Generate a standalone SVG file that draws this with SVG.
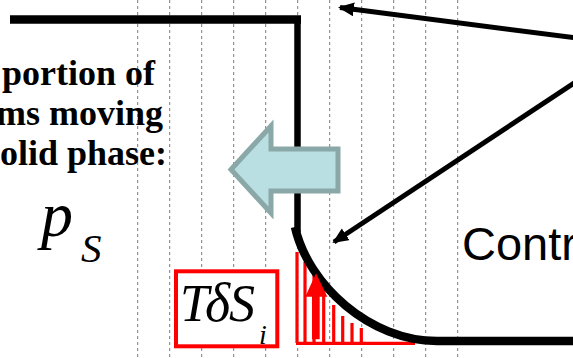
<svg xmlns="http://www.w3.org/2000/svg" width="573" height="358" viewBox="0 0 573 358">
<defs>
<style>
.grid line{stroke:#7a7a7a;stroke-width:1;stroke-dasharray:3 3}
.wall{fill:none;stroke:#000;stroke-linejoin:miter}
.ptr{stroke:#000;stroke-width:5;marker-end:url(#ah)}
.bar{stroke:#ff0000;stroke-width:3.2}
.lbl{font-family:"Liberation Serif","Times New Roman",serif;font-weight:bold;font-size:36px;fill:#000;text-anchor:end}
.math{font-family:"Liberation Serif","Times New Roman",serif;font-style:italic;fill:#000}
</style>
<marker id="ah" markerUnits="userSpaceOnUse" markerWidth="18" markerHeight="16" refX="14" refY="7" orient="auto">
<path d="M0,0 L16,7 L0,14 z" fill="#000"/>
</marker>
</defs>
<rect width="573" height="358" fill="#fff"/>
<g class="grid" id="grid">
<line x1="137.7" y1="0" x2="137.7" y2="358"/>
<line x1="169.7" y1="0" x2="169.7" y2="358"/>
<line x1="201.7" y1="0" x2="201.7" y2="358"/>
<line x1="233.7" y1="0" x2="233.7" y2="358"/>
<line x1="265.7" y1="0" x2="265.7" y2="358"/>
<line x1="297.7" y1="0" x2="297.7" y2="358"/>
<line x1="329.7" y1="0" x2="329.7" y2="358"/>
<line x1="361.7" y1="0" x2="361.7" y2="358"/>
<line x1="393.7" y1="0" x2="393.7" y2="358"/>
<line x1="425.7" y1="0" x2="425.7" y2="358"/>
<line x1="457.7" y1="0" x2="457.7" y2="358"/>
</g>
<g id="label-left">
<text class="lbl" x="155" y="85">portion of</text>
<text class="lbl" x="163" y="125">ms moving</text>
<text class="lbl" x="167" y="165">olid phase:</text>
</g>
<g id="ps">
<text class="math" x="41" y="236" font-size="64">p</text>
<text class="math" x="81" y="261.7" font-size="41">S</text>
</g>
<g id="walls">
<line class="wall" x1="10" y1="19.5" x2="301" y2="19.5" stroke-width="8.5"/>
<line class="wall" x1="297.5" y1="20" x2="297.5" y2="232" stroke-width="6.5"/>
</g>
<g id="bars">
<line class="bar" x1="296" y1="343.3" x2="415" y2="343.3"/>
<line class="bar" x1="297" y1="252" x2="297" y2="343"/>
<line class="bar" x1="305" y1="262" x2="305" y2="343"/>
<line class="bar" x1="314" y1="272" x2="314" y2="343"/>
<line class="bar" x1="323.7" y1="285" x2="323.7" y2="343"/>
<line class="bar" x1="333.7" y1="305" x2="333.7" y2="343"/>
<line class="bar" x1="342.7" y1="316" x2="342.7" y2="343"/>
<line class="bar" x1="352" y1="323" x2="352" y2="343"/>
<line class="bar" x1="361.3" y1="328" x2="361.3" y2="343"/>
</g>
<g id="surface">
<path class="wall" d="M295,227 C308,285 370,341 437,341 L573,341" stroke-width="8.5"/>
</g>
<g id="red-arrow">
<path d="M312,339.3 L312,296.7 L305.3,296.7 L316,273.3 L327.3,296.7 L319.7,296.7 L319.7,339.3 z" fill="#ff0000"/>
</g>
<g id="flux-arrow">
<path d="M231,169.5 L271,126 L271,149 L338,149 L338,191 L271,191 L271,213 z" fill="#b9dfe3" stroke="#8ba8a8" stroke-width="5" stroke-linejoin="miter"/>
</g>
<g id="tds-box">
<rect x="176" y="271.3" width="101.3" height="75" fill="#fff" stroke="#ff0000" stroke-width="4"/>
<text class="math" x="180" y="321.3" font-size="52">T</text>
<text class="math" x="205" y="321.3" font-size="54">δ</text>
<text class="math" x="229" y="321.3" font-size="52">S</text>
<text class="math" x="259" y="344" font-size="28">i</text>
</g>
<g id="contr">
<text x="462" y="260" font-family="'Liberation Sans',Arial,sans-serif" font-size="47" fill="#000">Contr</text>
</g>
<g id="connectors">
<line class="ptr" x1="600" y1="41" x2="340" y2="7.6"/>
<line class="ptr" x1="600" y1="66" x2="334" y2="242"/>
</g>
</svg>
